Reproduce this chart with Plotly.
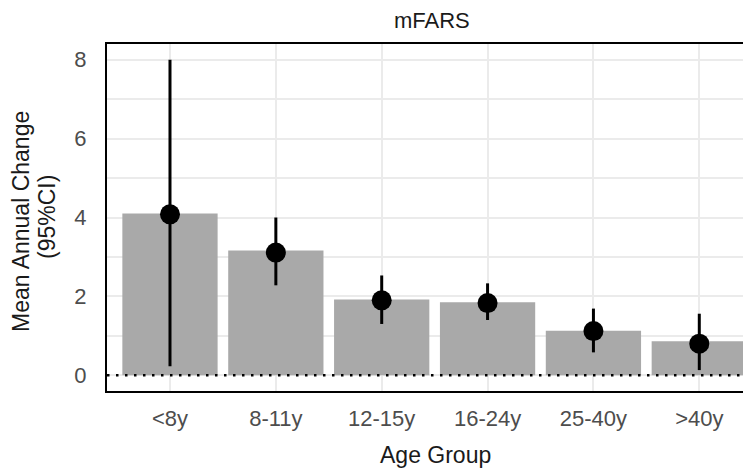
import plotly.graph_objects as go

categories = ["<8y", "8-11y", "12-15y", "16-24y", "25-40y", ">40y"]
bar_values = [4.10, 3.16, 1.92, 1.85, 1.13, 0.86]
point_values = [4.08, 3.11, 1.90, 1.83, 1.12, 0.80]
ci_low = [0.23, 2.28, 1.30, 1.40, 0.58, 0.13]
ci_high = [8.00, 4.00, 2.53, 2.33, 1.69, 1.56]
y_ticks = [0, 2, 4, 6, 8]

err_plus = [h - p for h, p in zip(ci_high, point_values)]
err_minus = [p - l for p, l in zip(point_values, ci_low)]

FONT = "Liberation Sans, Arial, sans-serif"
OFF = 8  # page body margin


def px_x(px):
    return (px - 107) / 644


def px_y(py):
    return (391 - py) / 347


fig = go.Figure()
fig.add_trace(go.Bar(
    x=categories, y=bar_values, width=0.9,
    marker=dict(color="#a9a9a9", line=dict(width=0)),
    showlegend=False, hoverinfo="skip",
))
fig.add_trace(go.Scatter(
    x=categories, y=point_values, mode="markers",
    marker=dict(color="black", size=20, line=dict(width=0)),
    error_y=dict(type="data", symmetric=False, array=err_plus, arrayminus=err_minus,
                 color="black", thickness=3, width=0),
    showlegend=False,
))

fig.add_shape(type="line", xref="paper", yref="y", x0=0, x1=1, y0=0, y1=0,
              line=dict(color="black", width=2.5, dash="2.5px,6.5px"), layer="above")

title_font = dict(family=FONT, size=23, color="#1a1a1a")
fig.update_layout(
    width=751 - OFF, height=470 - OFF,
    margin=dict(l=107 - OFF, r=0, t=44 - OFF, b=79),
    paper_bgcolor="white", plot_bgcolor="white",
    font=dict(family=FONT, size=22, color="#4d4d4d"),
    bargap=0.1,
    annotations=[
        dict(text="mFARS", xref="paper", yref="paper", x=px_x(432), y=px_y(21),
             xanchor="center", yanchor="middle", showarrow=False,
             font=dict(family=FONT, size=22, color="#1a1a1a")),
        dict(text="Age Group", xref="paper", yref="paper", x=px_x(435), y=px_y(455),
             xanchor="center", yanchor="middle", showarrow=False, font=title_font),
        dict(text="Mean Annual Change", xref="paper", yref="paper",
             x=px_x(21), y=px_y(222), textangle=-90,
             xanchor="center", yanchor="middle", showarrow=False, font=title_font),
        dict(text="(95%CI)", xref="paper", yref="paper",
             x=px_x(47), y=px_y(217), textangle=-90,
             xanchor="center", yanchor="middle", showarrow=False, font=title_font),
    ],
)
fig.update_xaxes(
    type="category", categoryorder="array", categoryarray=categories,
    range=[-0.595, -0.595 + 644 / 105.86],
    showline=True, linecolor="black", linewidth=2, mirror=True,
    showgrid=True, gridcolor="#ebebeb", gridwidth=2,
    ticks="", ticklabelstandoff=7,
    tickfont=dict(size=22, color="#4d4d4d"),
)
fig.update_yaxes(
    range=[-0.4, 8.4], tickvals=y_ticks, ticktext=[str(v) for v in y_ticks],
    showline=True, linecolor="black", linewidth=2, mirror=False,
    showgrid=True, gridcolor="#ebebeb", gridwidth=2, zeroline=False,
    minor=dict(tickvals=[1, 3, 5, 7], showgrid=True, gridcolor="#ebebeb", gridwidth=1.5),
    ticks="", ticklabelstandoff=14,
    tickfont=dict(size=22, color="#4d4d4d"),
)

fig.write_html("out.html")
